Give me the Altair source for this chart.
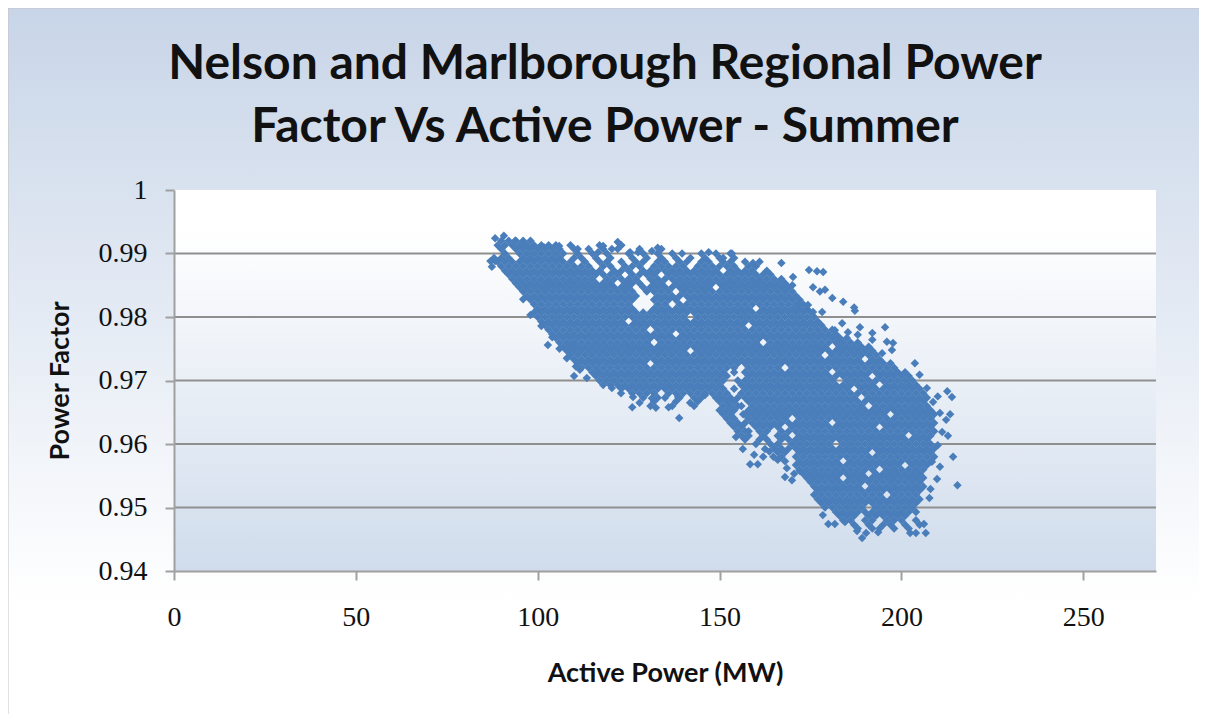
import altair as alt
import pandas as pd

title_line_1 = "Nelson and Marlborough Regional Power"
title_line_2 = "Factor Vs Active Power - Summer"
x_ticks = [0, 50, 100, 150, 200, 250]
y_ticks = [0.94, 0.95, 0.96, 0.97, 0.98, 0.99, 1.0]

row_y = [0.9920,0.9913,0.9907,0.9900,0.9893,0.9887,0.9880,0.9873,0.9867,0.9860,0.9853,0.9847,0.9840,0.9833,0.9827,0.9820,
0.9813,0.9807,0.9800,0.9793,0.9787,0.9780,0.9773,0.9767,0.9760,0.9753,0.9747,0.9740,0.9733,0.9727,0.9720,0.9713,
0.9707,0.9700,0.9693,0.9687,0.9680,0.9673,0.9667,0.9660,0.9653,0.9647,0.9640,0.9633,0.9627,0.9620,0.9613,0.9607,
0.9600,0.9593,0.9587,0.9580,0.9573,0.9567,0.9560,0.9553,0.9547,0.9540,0.9533,0.9527,0.9520,0.9513,0.9507,0.9500,
0.9493,0.9487,0.9480,0.9473,0.9467]

row_x = [
[90,92,94,96,98],
[89,91,93,95,97,99,101,103,105,109,117,123],
[90,94,96,98,100,102,104,106,110,114,118,122,128,134],
[91,95,97,99,101,103,105,107,111,115,119,125,129,133,137,145,149,153],
[88,90,92,96,98,100,102,104,106,110,112,116,120,126,130,134,138,142,146,150,154],
[89,91,93,95,97,99,101,103,105,107,109,113,117,119,123,127,129,133,135,139,141,145,147,151,153,157,161],
[90,92,94,96,98,100,102,104,106,108,110,112,114,118,120,124,126,128,132,134,136,138,140,144,146,148,150,152,154,158,160],
[91,93,95,97,99,101,103,105,107,109,111,113,115,117,121,123,125,129,131,133,135,137,139,141,143,145,147,149,153,155,157,159,163],
[92,94,96,98,100,102,104,106,108,110,112,114,116,118,120,122,126,128,130,132,136,138,140,142,144,146,148,150,152,154,156,158,160,162,164],
[93,95,97,99,101,103,105,107,109,111,113,115,119,121,123,125,127,131,133,135,137,139,141,143,145,147,149,151,153,155,157,159,161,163,165,167],
[94,96,98,100,102,104,106,108,110,112,114,116,118,120,124,126,128,132,134,138,140,142,144,146,148,150,152,154,156,158,160,162,164,166,168],
[95,97,99,101,103,105,107,109,111,113,115,117,119,121,123,125,129,131,133,135,137,139,141,143,145,147,151,153,155,157,159,161,163,165,167,169],
[96,98,100,102,104,106,108,110,112,114,116,118,120,122,124,126,130,132,134,136,140,142,144,146,148,150,152,154,156,158,160,162,164,166,168,170],
[97,99,101,103,105,107,109,111,113,115,117,119,121,123,125,127,133,135,137,139,141,143,145,147,149,151,153,155,157,159,161,163,165,167,169,171],
[98,100,102,104,106,108,110,112,114,116,118,120,122,124,126,132,134,136,138,142,144,146,148,150,152,154,156,158,160,162,164,166,168,170,172],
[99,101,103,105,107,109,111,113,115,117,119,121,123,125,133,135,139,141,143,145,147,149,151,153,155,157,159,161,163,165,167,169,171,173],
[100,102,104,106,108,110,112,114,116,118,120,122,124,126,132,134,136,138,140,142,144,146,148,150,152,154,156,158,162,164,166,168,170,172,174],
[99,101,103,105,107,109,111,113,115,117,119,121,123,125,127,129,131,133,135,137,139,141,143,145,147,149,151,153,155,157,159,161,163,165,167,169,171,173,175],
[100,102,104,106,108,110,112,114,116,118,120,122,124,126,128,130,132,134,136,138,140,144,146,148,150,152,154,156,158,160,162,164,166,168,170,172,174,176],
[101,103,105,107,109,111,113,115,117,119,121,123,127,129,131,133,135,137,139,141,143,145,147,149,151,153,155,157,159,161,163,165,167,169,171,173,175,177],
[102,104,106,108,110,112,114,116,118,120,122,124,126,128,130,132,134,136,138,140,142,144,146,148,150,152,154,156,160,162,164,166,168,170,172,174,176,178],
[103,105,107,109,111,113,115,117,119,121,123,125,127,129,133,135,137,139,141,143,145,147,149,151,153,155,157,159,161,163,165,167,169,171,173,175,177,179,181],
[104,106,108,110,112,114,116,118,120,122,124,126,128,130,132,134,136,140,142,144,146,148,150,152,154,156,158,160,162,164,166,168,170,172,174,176,178,180,182],
[105,107,109,111,113,115,117,119,121,123,125,127,129,131,133,135,137,139,141,143,145,147,149,151,153,155,157,159,161,163,165,167,169,171,173,175,177,179,181,183,185],
[106,108,110,112,114,116,118,120,122,124,126,128,130,134,136,138,140,142,144,146,148,150,152,154,156,158,160,164,166,168,170,172,174,176,178,180,182,184,186,188],
[107,109,111,113,115,117,119,121,123,125,127,129,131,133,135,137,139,141,143,145,147,149,151,153,155,157,159,161,163,165,167,169,171,173,175,177,179,183,185,187,189,191],
[108,110,112,114,116,118,120,122,124,126,128,130,132,134,136,138,140,144,146,148,150,152,154,156,158,160,162,164,166,168,170,172,174,176,178,180,182,184,186,188,190,192],
[109,111,113,115,117,119,121,123,125,127,129,131,133,135,137,139,141,143,145,147,149,151,153,155,157,159,161,163,165,167,169,171,173,175,177,181,183,185,187,189,191,193],
[110,112,114,116,118,120,122,124,126,128,130,132,134,136,138,140,142,144,146,148,150,152,154,156,158,160,162,164,166,168,170,172,174,176,178,180,182,184,186,188,192,194],
[111,113,115,117,119,121,123,125,127,129,133,135,137,139,141,143,145,147,149,151,153,155,157,159,161,163,165,167,169,171,173,175,177,179,181,183,185,187,189,191,193,195,197],
[112,114,116,118,120,122,124,126,128,130,132,134,136,138,140,142,144,146,148,150,152,154,158,160,162,164,166,170,172,174,176,178,180,182,184,186,188,190,192,194,196,198],
[115,117,119,121,123,125,127,129,131,133,135,137,139,141,143,145,147,149,151,157,159,161,163,165,167,169,171,173,175,177,179,183,185,187,189,191,193,195,197,199,201],
[116,118,120,122,124,126,128,130,132,134,136,138,140,142,144,146,148,150,152,158,160,162,164,166,168,170,172,174,176,178,180,182,184,186,188,190,194,196,198,200,202],
[117,119,121,123,125,127,129,131,133,135,137,139,141,143,145,147,149,151,157,159,161,163,165,167,169,171,173,175,177,179,181,185,187,189,191,193,195,197,199,201,203],
[120,122,124,126,128,130,132,134,136,138,140,142,144,146,148,150,156,158,160,162,164,166,168,170,172,174,176,178,180,182,184,186,188,190,192,196,198,200,202,204],
[123,125,127,129,131,133,135,137,139,141,143,145,147,149,151,157,159,161,163,165,167,169,171,173,175,177,179,181,183,185,189,191,193,195,197,199,201,203,205],
[126,128,130,132,136,138,140,142,144,146,148,150,152,156,158,160,162,164,166,168,170,172,174,176,178,180,182,184,186,188,190,192,194,196,198,200,202,204,206],
[129,133,135,139,143,145,149,151,153,157,159,161,163,165,167,169,171,173,175,177,179,181,183,185,187,191,193,195,197,199,201,203,205,207],
[132,138,144,150,152,154,158,160,162,164,166,168,170,172,174,176,178,180,182,184,186,188,190,192,194,196,198,200,202,204,206],
[131,137,143,151,153,155,159,161,163,165,167,169,171,173,175,177,179,181,183,185,187,189,193,195,197,199,201,203,205,207],
[150,152,154,158,160,162,164,166,168,170,172,174,176,178,180,182,184,186,188,190,192,194,196,198,200,202,204,206,208],
[151,153,157,159,161,163,165,167,169,171,173,175,177,179,181,183,185,187,189,191,193,195,199,201,203,205,207,209],
[152,154,158,160,162,164,166,168,172,174,176,178,180,182,184,186,188,190,192,194,196,198,200,202,204,206,208],
[153,155,159,161,163,165,167,169,171,173,175,177,179,183,185,187,189,191,193,195,197,199,201,203,205,207,209],
[154,156,160,162,164,166,170,172,174,176,178,180,182,184,186,188,190,192,196,198,200,202,204,206,208],
[155,157,161,163,167,169,171,173,175,177,179,181,183,185,187,189,191,193,195,197,199,201,203,205,207,209],
[156,158,162,166,168,172,174,176,178,180,182,184,186,188,190,192,194,196,198,200,204,206,208],
[157,161,163,167,169,171,173,175,177,179,181,183,185,187,189,191,193,195,197,199,201,203,205,207],
[160,164,166,170,172,174,176,178,180,184,186,188,190,192,194,196,198,200,202,204,206,208],
[165,167,169,171,173,175,177,179,181,183,185,187,189,191,193,195,197,199,201,203,205,207,209],
[166,168,172,174,176,178,180,182,184,186,188,190,194,196,198,200,202,204,206,208],
[167,171,173,175,177,179,181,183,185,187,189,191,193,195,197,199,201,203,205,207,209],
[168,172,174,176,178,180,182,186,188,190,192,194,196,198,200,202,204,206,208],
[171,173,175,177,179,181,183,185,187,189,191,193,195,197,199,203,205,207],
[172,174,176,178,180,182,184,186,188,190,192,196,198,200,202,204,206],
[173,175,177,179,181,183,185,187,189,193,195,197,199,201,203,205],
[174,176,178,180,182,186,188,190,192,194,196,198,200,202,204,206],
[175,177,179,181,183,185,187,189,191,193,195,197,199,201,203,205],
[176,178,180,182,184,186,188,192,194,196,198,200,202,204,206],
[177,179,181,183,185,187,189,191,193,195,197,199,201,203,205],
[176,178,180,182,184,186,188,190,192,194,198,200,202,204],
[177,179,181,183,185,187,189,191,193,195,197,199,201,203,205],
[178,180,182,184,186,188,190,192,194,196,198,200,202,204],
[179,181,183,185,187,189,193,195,197,199,201,203],
[182,184,186,188,190,192,194,196,198,200,202,204],
[183,185,187,191,193,195,197,199,201],
[184,186,190,192,196,198,200,204],
[187,191,195,197,201,205],
[188,192,194,198,202],
]

extra_x = [159.2,167,174.6,176.8,178.5,175.7,177.6,179,181,184,187,187.2,195.5,192,188.6,183.7,203.7,205,212.6,213.9,
213.4,212.8,214.2,215.4,210.6,209.8,208,207.7,206.2,206.7,202.4,204,189.2,187.8,190.3,193.6,179.9,181.7,184.5,178.4,
169.9,158.4,162,164.8,159.5,156.4,154.5,102.8,138.9,126,132.5,136,122.9,110,87.4,87,88.3,122,118,
162.5,166,168.5,170.5,160.5,163.7,172,168,
207,210,208.7,207.6,210.6,212.3,211.2,210,208.4,197.7,196,197.4,194.7,198.8,
192,188,185.3,181.7,183,175.7,178.2,174.3,171.6,170.2,170,
111.6,113.5,116.6,118,120.4,126.2,128,131.4,138.6,141.9,146,150,152.3,
90.7,88.3,93.8,96,101.7,105.9,111,116.6,120.4,125.4,127.6,131.4,133,139.7,147,153.4,151,
154,155,154,155,156,156.5,157,158,96,98,101,104,106,108,110.5]
extra_y = [0.9885,0.9885,0.9874,0.9872,0.9871,0.9847,0.984,0.9843,0.983,0.9824,0.9815,0.981,0.9784,0.9775,0.9784,0.979,0.9727,0.9709,0.9683,0.9674,
0.9647,0.9613,0.958,0.9535,0.9564,0.9545,0.9529,0.9515,0.9474,0.946,0.946,0.946,0.9452,0.9463,0.946,0.9461,0.9474,0.9474,0.9477,0.9488,
0.9543,0.9568,0.958,0.958,0.9583,0.9592,0.9611,0.9756,0.9641,0.9658,0.9657,0.9658,0.968,0.9707,0.9879,0.9888,0.9888,0.9918,0.9912,
0.9592,0.9575,0.9562,0.9553,0.9568,0.9588,0.9558,0.9548,
0.9688,0.9675,0.9666,0.9652,0.9649,0.9638,0.9619,0.9598,0.9572,0.9759,0.9761,0.9748,0.9743,0.9713,
0.9764,0.9772,0.9776,0.9779,0.9767,0.9808,0.9808,0.9819,0.9819,0.9863,0.985,
0.9717,0.9704,0.9714,0.9693,0.9688,0.9674,0.9665,0.9672,0.9674,0.9665,0.9677,0.9672,0.9666,
0.9928,0.9924,0.992,0.9917,0.991,0.9912,0.9907,0.9902,0.9907,0.9902,0.9902,0.9904,0.9909,0.99,0.9902,0.99,0.9893,
0.9713,0.97,0.9687,0.9673,0.966,0.9647,0.9633,0.962,0.9828,0.9803,0.9786,0.9768,0.975,0.9735,0.9722]

xs, ys = [], []
for level, group in zip(row_y, row_x):
    xs.extend(group)
    ys.extend([level] * len(group))
xs.extend(extra_x)
ys.extend(extra_y)
data = pd.DataFrame({"x": xs, "y": ys})
grid_data = pd.DataFrame({"y": y_ticks[1:-1]})

W, H = 982, 381
PL, PT, PR, PB = 166, 182, 43, 143
LABEL = "Liberation Serif"
HEAD = "Lato"
Y_SCALE = alt.Scale(domain=[0.94, 1.0], nice=False, zero=False)
Y_AXIS = alt.Axis(title="Power Factor", values=y_ticks, format=".2~f", grid=False, labelFlush=False,
                  tickSize=9, tickWidth=2, tickColor="#a0a0a0", domainColor="#a0a0a0", domainWidth=2,
                  labelFont=LABEL, labelFontSize=28, labelColor="#111111", labelPadding=18,
                  titleFont=HEAD, titleFontSize=27, titleFontWeight="bold", titleColor="#111111",
                  titlePadding=24, zindex=1)

outer = alt.Chart().mark_rect(
    stroke="#c4c4c4", strokeWidth=1,
    color=alt.Gradient(gradient="linear", x1=0, y1=0, x2=0, y2=1,
                       stops=[alt.GradientStop(offset=0, color="#c8d5e8"),
                              alt.GradientStop(offset=0.82, color="#ffffff"),
                              alt.GradientStop(offset=1, color="#ffffff")]),
).encode(x=alt.value(-PL), x2=alt.value(W + PR + 20), y=alt.value(-PT), y2=alt.value(H + PB + 20))

inner = alt.Chart().mark_rect(
    color=alt.Gradient(gradient="linear", x1=0, y1=0, x2=0, y2=1,
                       stops=[alt.GradientStop(offset=0, color="#ffffff"),
                              alt.GradientStop(offset=0.1, color="#ffffff"),
                              alt.GradientStop(offset=1, color="#d0dcec")]),
).encode(x=alt.value(0), x2=alt.value(W), y=alt.value(0), y2=alt.value(H))

grid = alt.Chart(grid_data).mark_rule(color="#8f8f8f", strokeWidth=2).encode(
    y=alt.Y("y:Q", scale=Y_SCALE, axis=Y_AXIS))

points = alt.Chart(data).mark_point(shape="diamond", filled=True, size=72, color="#4a7ebb", opacity=1).encode(
    x=alt.X("x:Q", scale=alt.Scale(domain=[0, 270], nice=False),
            axis=alt.Axis(title="Active Power (MW)", values=x_ticks, grid=False, tickSize=9, tickWidth=2, tickColor="#a0a0a0",
                          domainColor="#a0a0a0", domainWidth=2, labelFont=LABEL, labelFontSize=28,
                          labelColor="#111111", labelPadding=23, labelFlush=False, titleFont=HEAD, titleFontSize=27,
                          titleFontWeight="bold", titleColor="#111111", titlePadding=29, zindex=1)),
    y=alt.Y("y:Q", scale=Y_SCALE, axis=Y_AXIS),
)

def title_mark(line, baseline_y):
    return alt.Chart(pd.DataFrame({"line": [line]})).mark_text(
        font=HEAD, fontSize=48, fontWeight="bold", color="#111111", align="center", baseline="alphabetic",
    ).encode(text="line:N", x=alt.value(431), y=alt.value(baseline_y))

chart = alt.layer(outer, inner, grid, points, title_mark(title_line_1, -111), title_mark(title_line_2, -48)).properties(
    width=W, height=H,
    padding={"left": PL, "top": PT, "right": PR, "bottom": PB},
    autosize=alt.AutoSizeParams(type="none"),
).configure_view(stroke=None)

chart.save("out.html", embed_options={"renderer": "svg", "actions": False})
